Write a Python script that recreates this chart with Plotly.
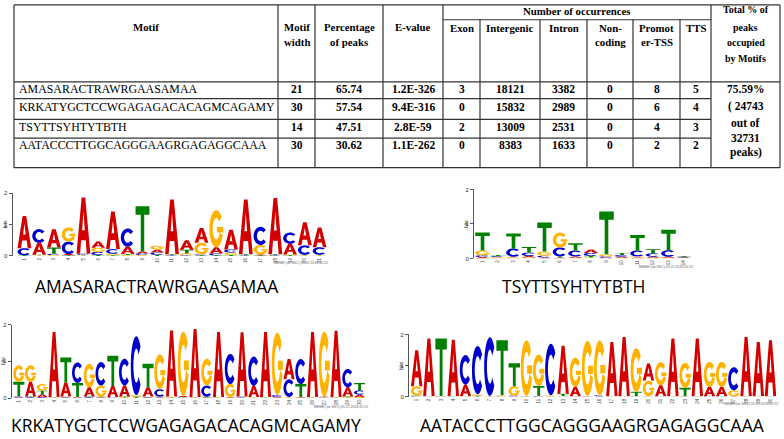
import numpy as np
import plotly.graph_objects as go

W, H = 784, 439

# ---------------- table data ----------------
motifs = ["AMASARACTRAWRGAASAMAA", "KRKATYGCTCCWGAGAGACACAGMCAGAMY",
          "TSYTTSYHTYTBTH", "AATACCCTTGGCAGGGAAGRGAGAGGCAAA"]
motif_width = [21, 30, 14, 30]
pct_peaks = ["65.74", "57.54", "47.51", "30.62"]
e_values = ["1.2E-326", "9.4E-316", "2.8E-59", "1.1E-262"]
exon = [3, 0, 2, 0]
intergenic = [18121, 15832, 13009, 8383]
intron = [3382, 2989, 2531, 1633]
noncoding = [0, 0, 0, 0]
promoter_tss = [8, 6, 4, 2]
tts = [5, 4, 3, 2]
total_lines = ["75.59%", "( 24743", "out of", "32731", "peaks)"]

header_main = [["Motif"], ["Motif", "width"], ["Percentage", "of peaks"], ["E-value"]]
header_group = "Number of occurrences"
header_sub = [["Exon"], ["Intergenic"], ["Intron"], ["Non-", "coding"],
              ["Promot", "er-TSS"], ["TTS"]]
header_total = ["Total % of", "peaks", "occupied", "by Motifs"]

# ---------------- logo data (bits per letter) ----------------
logo1_A = [1.03, 0.38, 0.58, 0.04, 1.80, 0.20, 1.20, 0.24, 0.06, 0.10, 1.74, 0.30, 0.47, 0.20, 0.63, 1.74, 0.03, 1.79, 0.34, 0.74, 0.63]
logo1_C = [0.23, 0.44, 0.04, 0.40, 0.03, 0.10, 0.15, 0.58, 0.05, 0.07, 0.02, 0.02, 0.03, 0.06, 0.10, 0.02, 0.58, 0.02, 0.36, 0.30, 0.24]
logo1_G = [0.00, 0.02, 0.03, 0.45, 0.02, 0.13, 0.05, 0.03, 0.03, 0.12, 0.02, 0.06, 0.37, 1.18, 0.08, 0.02, 0.30, 0.02, 0.03, 0.02, 0.02]
logo1_T = [0.02, 0.02, 0.20, 0.02, 0.02, 0.03, 0.02, 0.03, 1.45, 0.04, 0.02, 0.12, 0.02, 0.02, 0.03, 0.02, 0.02, 0.02, 0.02, 0.02, 0.02]

logo2_A = [0.04, 0.02, 0.02, 0.04, 0.03, 0.03, 0.04, 0.10, 0.02, 0.03, 0.03, 0.03, 0.03, 0.02]
logo2_C = [0.05, 0.03, 0.24, 0.10, 0.05, 0.26, 0.17, 0.09, 0.04, 0.05, 0.17, 0.10, 0.19, 0.02]
logo2_G = [0.14, 0.02, 0.03, 0.03, 0.12, 0.43, 0.02, 0.03, 0.06, 0.02, 0.03, 0.02, 0.02, 0.01]
logo2_T = [0.52, 0.03, 0.43, 0.16, 0.84, 0.03, 0.21, 0.04, 1.24, 0.06, 0.45, 0.12, 0.59, 0.02]

logo3_A = [0.02, 0.40, 0.08, 1.77, 0.38, 0.02, 0.25, 0.02, 0.30, 0.30, 0.01, 0.25, 0.02, 1.80, 0.04, 1.85, 0.02, 1.77, 0.02, 1.75, 0.30, 1.77, 0.02, 0.55, 0.02, 1.77, 0.02, 1.80, 0.25, 0.07]
logo3_C = [0.02, 0.02, 0.02, 0.01, 0.02, 0.56, 0.02, 0.64, 0.02, 0.73, 1.60, 0.02, 0.20, 0.01, 0.01, 0.01, 0.30, 0.01, 0.82, 0.02, 0.80, 0.01, 0.05, 0.48, 0.68, 0.01, 0.01, 0.01, 0.50, 0.12]
logo3_G = [0.45, 0.45, 0.18, 0.01, 0.02, 0.01, 0.64, 0.30, 0.01, 0.02, 0.04, 0.02, 0.95, 0.02, 1.75, 0.01, 0.73, 0.01, 0.35, 0.01, 0.02, 0.01, 1.70, 0.02, 0.01, 0.01, 1.77, 0.01, 0.02, 0.02]
logo3_T = [0.40, 0.02, 0.10, 0.01, 0.68, 0.38, 0.02, 0.02, 0.82, 0.02, 0.03, 0.64, 0.02, 0.01, 0.01, 0.01, 0.02, 0.01, 0.01, 0.01, 0.01, 0.01, 0.01, 0.01, 0.35, 0.01, 0.01, 0.01, 0.02, 0.20]

logo4_A = [1.15, 1.84, 0.01, 1.80, 0.37, 0.01, 0.01, 0.01, 0.01, 0.01, 0.01, 0.01, 1.54, 0.30, 0.01, 0.01, 1.73, 1.89, 0.01, 0.55, 0.35, 1.84, 0.01, 1.84, 0.30, 0.30, 0.01, 1.89, 1.73, 1.78]
logo4_C = [0.02, 0.01, 0.01, 0.01, 0.95, 1.55, 1.88, 0.01, 0.03, 0.01, 0.02, 1.65, 0.01, 0.01, 0.01, 0.03, 0.01, 0.01, 0.01, 0.01, 0.01, 0.01, 0.01, 0.01, 0.01, 0.01, 0.74, 0.01, 0.01, 0.01]
logo4_G = [0.30, 0.01, 0.01, 0.01, 0.01, 0.04, 0.01, 0.03, 0.30, 1.78, 1.00, 0.03, 0.01, 0.94, 1.76, 1.76, 0.01, 0.01, 1.40, 0.50, 0.74, 0.01, 0.80, 0.01, 0.80, 0.80, 0.19, 0.01, 0.01, 0.01]
logo4_T = [0.02, 0.01, 1.84, 0.01, 0.01, 0.03, 0.01, 1.76, 0.74, 0.01, 0.32, 0.01, 0.08, 0.01, 0.01, 0.01, 0.01, 0.01, 0.14, 0.01, 0.01, 0.01, 0.27, 0.01, 0.01, 0.01, 0.01, 0.01, 0.01, 0.01]

logo_titles = ["AMASARACTRAWRGAASAMAA", "TSYTTSYHTYTBTH",
               "KRKATYGCTCCWGAGAGACACAGMCAGAMY", "AATACCCTTGGCAGGGAAGRGAGAGGCAAA"]
footer_text = "MEME (no SSC) 05.07.2018 05:52"

# ---------------- style / layout ----------------
COLORS = {"A": "#D40000", "C": "#0000CC", "G": "#FFB300", "T": "#008000"}
SERIF = "Liberation Serif, Times New Roman, serif"
SANS = "Open Sans, Noto Sans, sans-serif"
TFS = 11.5      # body numbers
MFS = 11.9      # motif names
HFS = 10.8      # header text
DY = -2         # text vertical nudge (px)

def px(x):
    return x / W

def py(y):
    return 1 - y / H

# glyphs in unit box
def ring(a0, a1, ro=(0.5, 0.5), ri=(0.26, 0.29), n=28):
    a = np.radians(np.linspace(a0, a1, n))
    outer = [(0.5 + ro[0] * np.cos(t), 0.5 + ro[1] * np.sin(t)) for t in a]
    inner = [(0.5 + ri[0] * np.cos(t), 0.5 + ri[1] * np.sin(t)) for t in a[::-1]]
    return outer + inner

GLYPHS = {
    "A": [[(0, 0), (0.37, 1), (0.63, 1), (1, 0), (0.74, 0), (0.665, 0.24), (0.335, 0.24), (0.26, 0)],
          [(0.405, 0.42), (0.595, 0.42), (0.5, 0.76)]],
    "T": [[(0, 1), (1, 1), (1, 0.81), (0.625, 0.81), (0.625, 0), (0.375, 0), (0.375, 0.81), (0, 0.81)]],
    "C": [ring(40, 320)],
    "G": [ring(40, 340), [(0.55, 0.40), (1.0, 0.40), (1.0, 0.55), (0.55, 0.55)]],
}

def glyph_path(letter, xc, w, y0, h):
    s = ""
    for poly in GLYPHS[letter]:
        pts = [(xc - w / 2 + gx * w, y0 + gy * h) for gx, gy in poly]
        s += "M" + "L".join(f"{x:.4f},{y:.4f}" for x, y in pts) + "Z"
    return s

panels = [
    dict(A=logo1_A, C=logo1_C, G=logo1_G, T=logo1_T, axis=12.5, pos1=24.4, step=14.76,
         base=256.5, top=193, title=logo_titles[0], tx=157, ty=287, fx=330, fy=264),
    dict(A=logo2_A, C=logo2_C, G=logo2_G, T=logo2_T, axis=474, pos1=482.5, step=15.5,
         base=259, top=189, title=logo_titles[1], tx=574, ty=287, fx=695, fy=268),
    dict(A=logo3_A, C=logo3_C, G=logo3_G, T=logo3_T, axis=11.7, pos1=18.8, step=11.75,
         base=400.5, top=326, title=logo_titles[2], tx=186, ty=428, fx=370, fy=410),
    dict(A=logo4_A, C=logo4_C, G=logo4_G, T=logo4_T, axis=409, pos1=416.7, step=12.2,
         base=399.3, top=336, title=logo_titles[3], tx=592, ty=428, fx=780, fy=407),
]

fig = go.Figure()
shapes = []
annotations = []
layout_axes = {}

for k, p in enumerate(panels):
    n = len(p["A"])
    sfx = "" if k == 0 else str(k + 1)
    xref, yref = "x" + sfx, "y" + sfx
    positions = list(range(1, n + 1))
    totals = [p["A"][i] + p["C"][i] + p["G"][i] + p["T"][i] for i in range(n)]
    fig.add_trace(go.Scatter(x=positions, y=totals, mode="markers", marker=dict(opacity=0),
                             xaxis=xref, yaxis=yref, hoverinfo="skip", showlegend=False))
    x_left = 1 - (p["pos1"] - p["axis"]) / p["step"]
    x_right_px = p["pos1"] + (n - 0.5) * p["step"]
    layout_axes["xaxis" + sfx] = dict(
        domain=[px(p["axis"]), px(x_right_px)], range=[x_left, n + 0.5], anchor=yref,
        showgrid=False, zeroline=False, showline=False, ticks="",
        tickvals=positions, ticktext=[str(i) for i in positions], tickangle=-90,
        tickfont=dict(size=4.5, color="#444", family="Liberation Sans, Arial, sans-serif"))
    layout_axes["yaxis" + sfx] = dict(
        domain=[py(p["base"]), py(p["top"])], range=[0, 2], anchor=xref,
        showgrid=False, zeroline=False, showline=True, linecolor="#555", linewidth=1,
        ticks="outside", ticklen=3, tickwidth=1, tickcolor="#555", tickvals=[0, 1, 2],
        tickfont=dict(size=6, color="#333", family="Liberation Sans, Arial, sans-serif"))
    w = 0.94
    for i in range(n):
        stack = sorted([(p[L][i], L) for L in "ACGT" if p[L][i] > 0.005])
        y0 = 0.0
        for h, L in stack:
            shapes.append(dict(type="path", xref=xref, yref=yref,
                               path=glyph_path(L, positions[i], w, y0, h),
                               fillcolor=COLORS[L], line=dict(width=0), layer="above"))
            y0 += h
    bits_y = p["base"] - (p["base"] - p["top"]) / 2
    annotations.append(dict(text="bits", x=px(p["axis"] - 8), y=py(bits_y), xref="paper", yref="paper",
                            showarrow=False, textangle=-90, xanchor="center", yanchor="middle",
                            font=dict(size=5, color="#333", family="Liberation Sans, Arial")))
    annotations.append(dict(text=p["title"], x=px(p["tx"]), y=py(p["ty"]), xref="paper", yref="paper",
                            showarrow=False, xanchor="center", yanchor="middle",
                            font=dict(size=17.5, color="black", family=SANS)))
    annotations.append(dict(text=footer_text, x=px(p["fx"]), y=py(p["fy"]), xref="paper", yref="paper",
                            showarrow=False, xanchor="right", yanchor="middle",
                            font=dict(size=3.5, color="#666", family="Liberation Sans, Arial")))

# ---------------- table ----------------
col_edges = [14, 278, 315, 383, 443, 480, 540, 587, 633, 680, 711, 780]
row_edges = [2, 80, 97, 118, 137, 167]
sub_y = 17
LC = "#333"

def hline(y, x0, x1):
    shapes.append(dict(type="line", xref="paper", yref="paper", x0=px(x0), x1=px(x1),
                       y0=py(y), y1=py(y), line=dict(color=LC, width=1.2)))

def vline(x, y0, y1):
    shapes.append(dict(type="line", xref="paper", yref="paper", x0=px(x), x1=px(x),
                       y0=py(y0), y1=py(y1), line=dict(color=LC, width=1.2)))

hline(row_edges[0], col_edges[0], col_edges[-1])
hline(row_edges[1], col_edges[0], col_edges[-1])
for r in row_edges[2:-1]:
    hline(r, col_edges[0], col_edges[-2])
hline(row_edges[-1], col_edges[0], col_edges[-1])
hline(sub_y, col_edges[4], col_edges[10])
for j, c in enumerate(col_edges):
    if 5 <= j <= 9:
        vline(c, sub_y, row_edges[-1])
    else:
        vline(c, row_edges[0], row_edges[-1])

def cell_text(txt, x, y, bold=True, anchor="center", size=TFS):
    annotations.append(dict(text=f"<b>{txt}</b>" if bold else txt, x=px(x), y=py(y + DY),
                            xref="paper", yref="paper", showarrow=False,
                            xanchor=anchor, yanchor="middle",
                            font=dict(size=size, color="black", family=SERIF)))

def center(j):
    return (col_edges[j] + col_edges[j + 1]) / 2

hdr_line_y = [26, 42]
for j, lines in enumerate(header_main):
    for li, t in enumerate(lines):
        cell_text(t, center(j), hdr_line_y[li], size=HFS)
cell_text(header_group, (col_edges[4] + col_edges[10]) / 2, 10.5, size=HFS)
for j, lines in enumerate(header_sub):
    for li, t in enumerate(lines):
        cell_text(t, center(4 + j), [27, 42][li], size=HFS)
for li, t in enumerate(header_total):
    cell_text(t, center(10), [9, 26.5, 42, 58][li], size=10)

row_y = [89, 107.5, 128, 146]
for i in range(4):
    cell_text(motifs[i], 17, row_y[i], bold=False, anchor="left", size=MFS)
    vals = [motif_width[i], pct_peaks[i], e_values[i], exon[i], intergenic[i], intron[i],
            noncoding[i], promoter_tss[i], tts[i]]
    for j, v in enumerate(vals):
        cell_text(str(v), center(1 + j), row_y[i])
for li, t in enumerate(total_lines):
    cell_text(t, center(10), [89, 107, 124, 139, 154][li])

fig.update_layout(width=W, height=H, autosize=False, margin=dict(l=0, r=0, t=0, b=0),
                  paper_bgcolor="white", plot_bgcolor="rgba(0,0,0,0)",
                  shapes=shapes, annotations=annotations, showlegend=False, **layout_axes)
fig.write_html("out.html", config={"displayModeBar": False},
               post_script="document.body.style.margin='0';document.body.style.padding='0';"
                           "document.body.style.overflow='hidden';")
